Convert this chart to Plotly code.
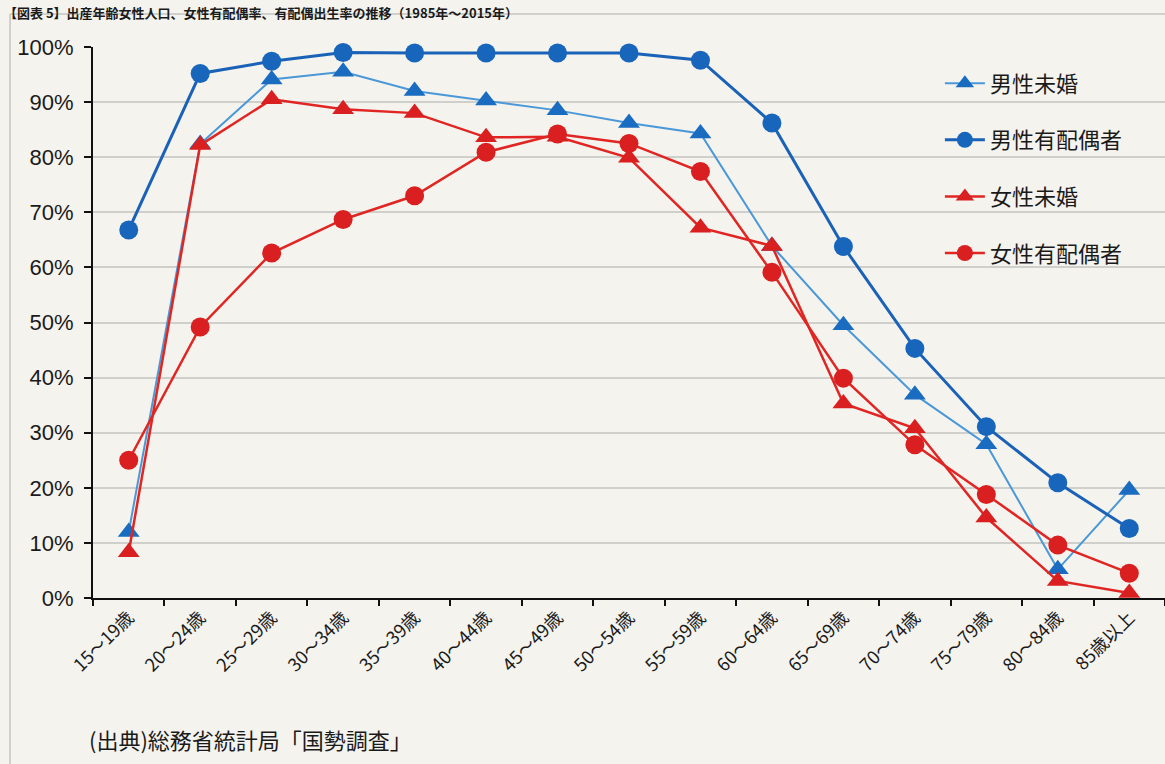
import plotly.graph_objects as go

categories = ["15～19歳", "20～24歳", "25～29歳", "30～34歳", "35～39歳", "40～44歳", "45～49歳",
              "50～54歳", "55～59歳", "60～64歳", "65～69歳", "70～74歳", "75～79歳", "80～84歳", "85歳以上"]

male_unmarried = [12.0, 82.4, 94.1, 95.5, 92.0, 90.3, 88.5, 86.2, 84.3, 63.9, 49.5, 36.9, 27.9, 5.2, 19.6]
male_married = [66.8, 95.2, 97.4, 99.0, 98.9, 98.9, 98.9, 98.9, 97.6, 86.2, 63.8, 45.3, 31.1, 20.9, 12.6]
female_unmarried = [8.3, 82.2, 90.5, 88.7, 88.0, 83.6, 83.7, 79.9, 67.2, 63.9, 35.3, 30.8, 14.6, 3.1, 0.9]
female_married = [25.0, 49.2, 62.6, 68.7, 73.0, 80.9, 84.2, 82.5, 77.4, 59.1, 39.9, 27.8, 18.8, 9.6, 4.5]

names = ["男性未婚", "男性有配偶者", "女性未婚", "女性有配偶者"]

FONT = "Liberation Sans, Arial, Noto Sans CJK JP, sans-serif"
JFONT = "Noto Sans CJK JP, sans-serif"
BG = "#f4f3ee"

series = [
    (names[0], male_unmarried, "#4a98d8", "#1a6cc0", "triangle-up", 2),
    (names[1], male_married, "#1a62b8", "#1766bb", "circle", 3),
    (names[2], female_unmarried, "#e02522", "#d91f1f", "triangle-up", 2.5),
    (names[3], female_married, "#e02522", "#d91f1f", "circle", 2.5),
]

fig = go.Figure()
for i, (nm, vals, lc, mc, sym, lw) in enumerate(series):
    fig.add_trace(go.Scatter(
        x=categories, y=[v / 100 for v in vals], name=nm, mode="lines+markers",
        line=dict(color=lc, width=lw),
        marker=dict(symbol=sym, size=19, color=mc, line=dict(width=0)),
        cliponaxis=False, legendgroup=f"g{i}",
    ))

fig.update_layout(
    width=1165, height=764,
    margin=dict(l=93, r=0, t=47, b=166),
    paper_bgcolor=BG, plot_bgcolor=BG,
    font=dict(family=FONT, color="#1a1a1a"),
    showlegend=True,
    legend=dict(
        x=0.79, y=0.972, xanchor="left", yanchor="top",
        bgcolor="rgba(0,0,0,0)", font=dict(family=JFONT, size=22, color="#1a1a1a"),
        tracegroupgap=25, itemwidth=40,
    ),
    xaxis=dict(
        type="category", range=[-0.5, 14.5],
        showline=True, linecolor="#111", linewidth=2,
        ticks="outside", tickson="boundaries", ticklen=6, tickwidth=2, tickcolor="#111",
        tickangle=-45, tickfont=dict(family=JFONT, size=18, color="#1a1a1a"),
        showgrid=False,
    ),
    yaxis=dict(
        range=[0, 1], dtick=0.1, tickformat=".0%",
        showline=True, linecolor="#111", linewidth=2,
        ticks="outside", ticklen=7, tickwidth=2, tickcolor="#111",
        ticklabelstandoff=6,
        tickfont=dict(family=FONT, size=22, color="#1a1a1a"),
        showgrid=True, gridcolor="#cfcfcb", gridwidth=1.5, zeroline=False,
    ),
    shapes=[
        dict(type="line", xref="paper", yref="paper", x0=-0.0774, x1=-0.0774, y0=1.06, y1=-0.32,
             line=dict(color="#c4c4c0", width=1.5)),
        dict(type="line", xref="paper", yref="paper", x0=-0.0774, x1=1.0, y0=1.06, y1=1.06,
             line=dict(color="#c4c4c0", width=1.5)),
    ],
    annotations=[
        dict(text="(出典)総務省統計局「国勢調査」", xref="paper", yref="paper",
             x=-0.006, y=-0.255, xanchor="left", yanchor="middle", showarrow=False,
             font=dict(family=JFONT, size=22, color="#1a1a1a")),
        dict(text="<b>【図表 5】出産年齢女性人口、女性有配偶率、有配偶出生率の推移（1985年～2015年）</b>",
             xref="paper", yref="paper", x=-0.085, y=1.0835, xanchor="left", yanchor="top",
             showarrow=False, font=dict(family=JFONT, size=13, color="#1a1a1a")),
    ],
)

fig.write_html("out.html")
